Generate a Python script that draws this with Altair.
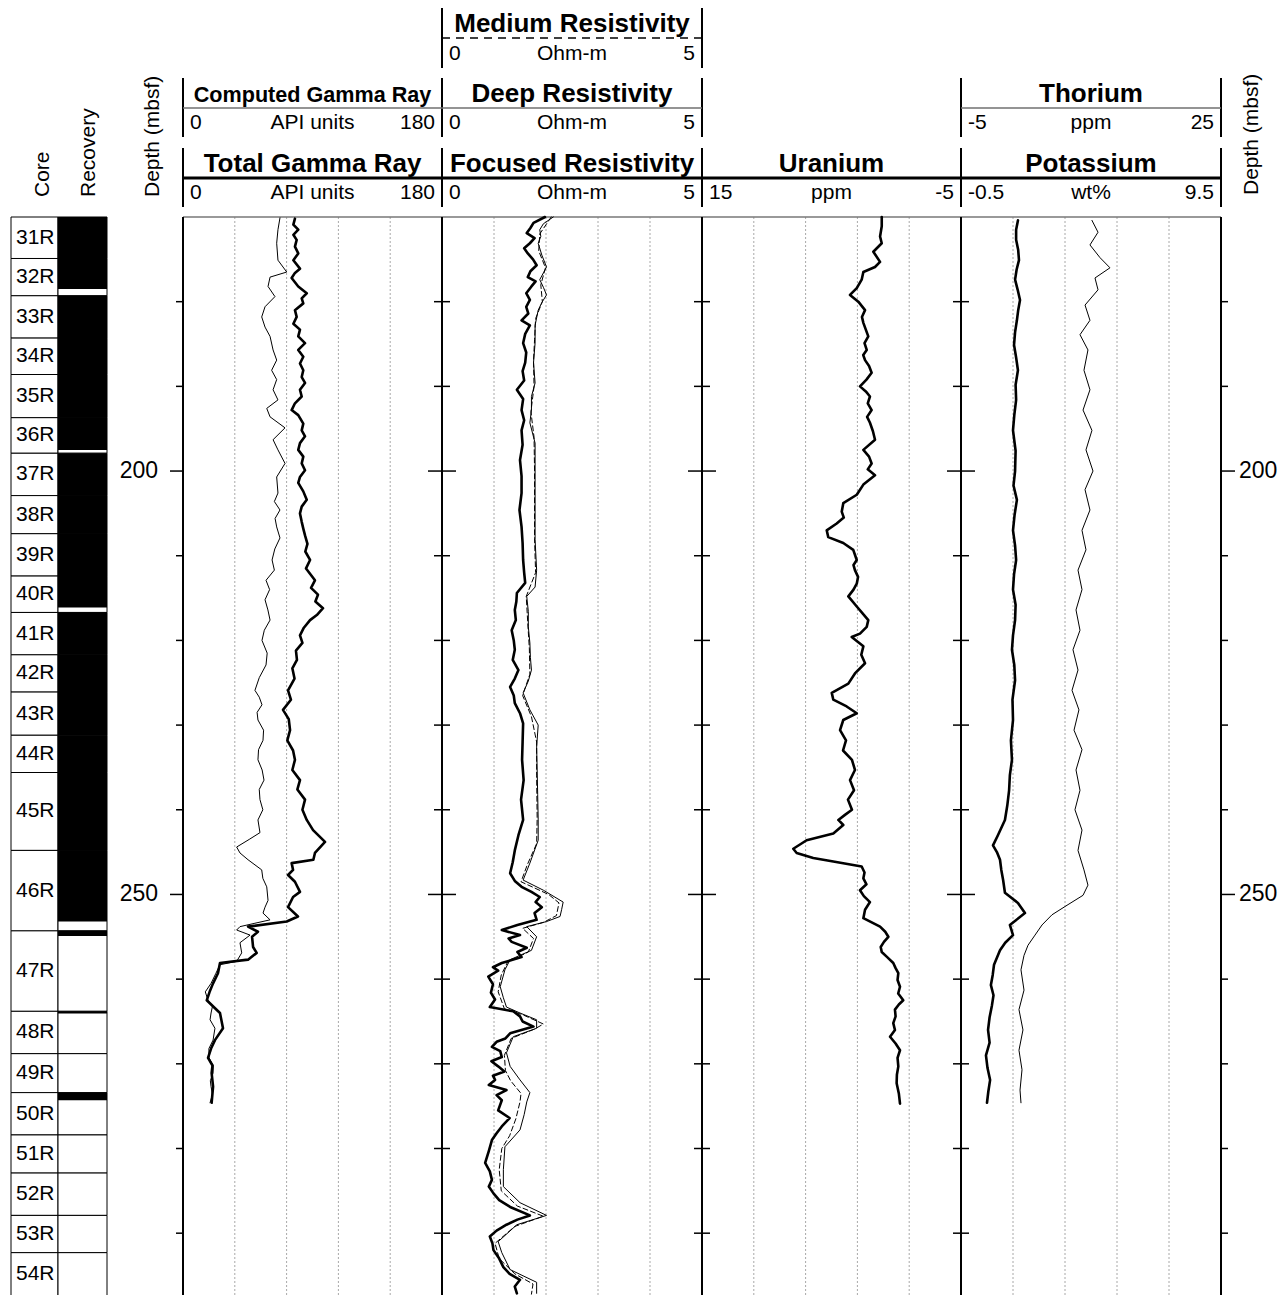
import altair as alt
import pandas as pd

# ------------------------------------------------------------------
# Depth frame (mbsf)
# ------------------------------------------------------------------
DEPTH_TOP = 170.0
DEPTH_BASE = 297.3
DEPTH_TICKS = [180, 190, 200, 210, 220, 230, 240, 250, 260, 270, 280, 290]
DEPTH_LABELS = [200, 250]

# ------------------------------------------------------------------
# Cores and recovered intervals
# ------------------------------------------------------------------
CORE_NAMES = ["31R", "32R", "33R", "34R", "35R", "36R", "37R", "38R", "39R", "40R",
              "41R", "42R", "43R", "44R", "45R", "46R", "47R", "48R", "49R", "50R",
              "51R", "52R", "53R", "54R"]
CORE_TOPS = [170.0, 174.9, 179.3, 184.3, 188.6, 193.7, 197.9, 202.9, 207.4, 212.4,
             216.7, 221.7, 226.1, 231.2, 235.6, 244.8, 254.3, 263.8, 268.8, 273.4,
             278.4, 282.9, 287.9, 292.3]
LAST_CORE_BASE = 297.6
RECOVERED = [(170.0, 174.9), (174.9, 178.5), (179.3, 184.3), (184.3, 188.6),
             (188.6, 193.7), (193.7, 197.5), (197.9, 202.9), (202.9, 207.4),
             (207.4, 212.4), (212.4, 216.1), (216.7, 221.7), (221.7, 226.1),
             (226.1, 231.2), (231.2, 235.6), (235.6, 244.8), (244.8, 253.2),
             (254.3, 254.9), (263.8, 264.05), (273.4, 274.3)]

# ------------------------------------------------------------------
# Log curves: (depth mbsf, value)
# ------------------------------------------------------------------
TOTAL_GR = [
    (170.2, 77.8), (170.9, 76.7), (171.5, 80.1), (172.1, 76.7), (172.7, 79.0), (173.5, 77.8),
    (174.3, 80.1), (175.1, 76.7), (176.1, 81.3), (176.6, 77.8), (177.2, 75.5), (178.2, 80.1),
    (179.0, 86.0), (179.6, 82.5), (180.2, 83.6), (181.0, 77.8), (181.8, 79.0), (182.6, 76.7),
    (183.3, 81.3), (184.1, 80.1), (184.9, 84.8), (185.7, 80.1), (186.5, 83.6), (187.3, 81.3),
    (188.1, 83.6), (188.9, 82.5), (189.6, 84.8), (190.4, 81.3), (191.2, 82.5), (192.0, 77.8),
    (192.8, 75.5), (193.4, 80.1), (194.4, 83.6), (195.2, 82.5), (195.9, 84.8), (196.7, 81.3),
    (197.5, 80.1), (198.3, 83.6), (199.1, 82.5), (199.9, 84.8), (200.7, 81.3), (201.4, 80.1),
    (202.4, 83.6), (203.4, 86.0), (204.2, 82.5), (205.0, 81.3), (206.0, 82.5), (206.8, 83.6),
    (207.6, 84.8), (208.6, 86.5), (209.5, 85.0), (210.5, 88.3), (211.5, 85.5), (212.9, 91.7),
    (213.8, 89.0), (214.6, 93.8), (215.4, 92.0), (216.2, 97.3), (217.0, 93.0), (217.6, 88.3),
    (218.5, 84.0), (219.4, 81.3), (220.3, 83.0), (221.2, 78.5), (222.3, 79.2), (223.3, 76.0),
    (224.5, 77.5), (225.9, 73.0), (227.0, 75.0), (228.2, 69.5), (229.3, 73.5), (230.6, 74.4),
    (231.8, 72.5), (233.0, 76.5), (234.1, 77.8), (235.3, 76.0), (236.5, 81.3), (237.6, 79.5),
    (238.8, 84.8), (240.0, 83.0), (241.2, 86.0), (242.4, 90.4), (243.8, 98.7), (245.1, 91.7),
    (245.9, 90.6), (246.3, 75.5), (247.1, 76.5), (247.7, 73.0), (248.5, 77.8), (249.7, 81.3),
    (250.3, 76.5), (251.5, 73.0), (252.6, 79.9), (253.2, 72.1), (253.8, 45.2), (254.4, 52.1),
    (255.0, 48.0), (256.2, 48.7), (256.9, 51.2), (257.7, 45.2), (258.1, 25.7), (259.3, 24.3),
    (260.5, 20.9), (261.5, 18.5), (262.5, 16.5), (264.0, 25.7), (265.8, 27.8), (267.2, 22.2),
    (268.2, 19.5), (269.3, 17.4), (270.2, 20.5), (271.1, 19.9), (272.7, 20.9), (274.6, 19.9),
]
COMPUTED_GR = [
    (170.1, 67.4), (171.5, 66.0), (173.1, 65.1), (175.1, 66.0), (176.5, 72.1), (177.1, 60.5),
    (178.2, 59.1), (179.4, 63.9), (180.6, 57.0), (181.8, 54.7), (183.0, 57.0), (184.1, 60.5),
    (185.7, 62.6), (186.9, 65.1), (188.1, 61.6), (189.2, 65.1), (190.4, 62.6), (191.6, 66.0),
    (192.6, 58.2), (193.6, 60.5), (194.9, 70.9), (196.3, 62.6), (197.5, 66.0), (199.1, 70.9),
    (200.7, 65.1), (202.6, 66.0), (203.6, 63.5), (204.6, 67.4), (205.6, 64.0), (206.6, 65.1),
    (207.9, 67.4), (209.2, 63.8), (210.5, 61.9), (211.7, 63.5), (212.9, 57.7), (214.0, 60.2),
    (215.2, 57.0), (216.4, 59.0), (217.6, 60.5), (218.8, 56.5), (220.0, 54.9), (221.5, 58.5),
    (222.9, 57.7), (224.4, 53.0), (225.9, 50.0), (226.7, 53.0), (227.6, 54.9), (228.5, 51.5),
    (229.4, 52.1), (230.6, 56.0), (231.8, 55.6), (232.9, 52.5), (234.1, 52.1), (235.3, 55.0),
    (236.5, 56.3), (237.6, 53.0), (238.8, 53.5), (240.0, 55.5), (241.2, 52.1), (242.7, 53.5),
    (243.5, 46.0), (244.4, 37.3), (245.1, 39.6), (245.9, 45.2), (247.1, 54.7), (248.1, 55.5),
    (249.1, 58.2), (250.7, 59.1), (251.5, 57.0), (252.2, 55.6), (253.0, 60.5), (253.4, 50.0),
    (253.8, 39.6), (254.2, 37.3), (254.8, 46.6), (255.7, 39.6), (256.9, 40.8), (257.9, 37.3),
    (258.3, 25.7), (259.3, 22.9), (260.5, 19.5), (261.5, 15.5), (262.5, 17.4), (263.2, 20.5),
    (264.0, 19.5), (264.8, 18.8), (265.8, 22.2), (267.2, 20.9), (268.2, 18.0), (269.3, 18.1),
    (270.2, 21.0), (271.1, 20.9), (272.0, 19.0), (272.7, 19.5), (273.6, 20.5), (274.6, 18.8),
]
FOCUSED_RES = [
    (170.0, 1.98), (170.7, 1.76), (171.3, 1.70), (171.9, 1.63), (172.5, 1.78), (173.1, 1.69),
    (173.7, 1.58), (174.3, 1.65), (175.0, 1.75), (175.7, 1.82), (176.4, 1.70), (177.1, 1.65),
    (177.6, 1.80), (178.2, 1.72), (179.0, 1.62), (179.8, 1.69), (180.6, 1.62), (181.4, 1.66),
    (182.2, 1.53), (182.8, 1.69), (183.8, 1.60), (184.9, 1.56), (186.0, 1.62), (187.2, 1.60),
    (188.2, 1.55), (189.3, 1.58), (190.4, 1.44), (191.5, 1.56), (192.8, 1.53), (194.0, 1.58),
    (195.2, 1.53), (196.9, 1.55), (198.7, 1.50), (200.6, 1.53), (202.6, 1.53), (204.6, 1.49),
    (206.6, 1.53), (208.5, 1.55), (210.5, 1.56), (212.0, 1.58), (213.2, 1.60), (214.4, 1.44),
    (215.4, 1.43), (216.4, 1.40), (217.6, 1.42), (218.8, 1.34), (220.0, 1.38), (221.1, 1.40),
    (222.3, 1.36), (223.5, 1.47), (224.5, 1.40), (225.5, 1.31), (226.5, 1.38), (227.4, 1.40),
    (228.6, 1.50), (229.8, 1.56), (232.0, 1.55), (234.1, 1.54), (236.5, 1.57), (238.8, 1.52),
    (241.2, 1.56), (243.0, 1.47), (244.8, 1.40), (246.2, 1.36), (247.5, 1.31), (248.4, 1.40),
    (249.1, 1.53), (249.7, 1.72), (250.3, 1.88), (250.9, 1.80), (251.5, 1.92), (252.2, 1.78),
    (253.0, 1.82), (253.6, 1.45), (254.2, 1.15), (254.8, 1.50), (255.2, 1.28), (255.6, 1.34),
    (256.3, 1.63), (256.8, 1.45), (257.4, 1.53), (258.1, 1.15), (258.6, 0.98), (259.0, 1.08),
    (259.7, 0.89), (260.6, 0.98), (261.6, 0.94), (262.4, 1.02), (263.3, 0.92), (263.8, 1.37),
    (264.4, 1.50), (265.0, 1.55), (265.6, 1.76), (266.4, 1.31), (267.0, 1.22), (267.4, 1.05),
    (268.0, 0.96), (268.5, 1.12), (269.2, 1.15), (269.7, 0.95), (270.3, 1.08), (270.9, 1.20),
    (271.4, 0.98), (271.9, 1.02), (272.5, 0.90), (273.1, 1.24), (273.7, 1.05), (274.3, 1.15),
    (275.5, 1.08), (276.4, 1.30), (277.4, 1.15), (278.2, 1.05), (279.0, 0.96), (280.3, 0.90),
    (281.7, 0.83), (282.7, 0.92), (283.7, 0.96), (284.5, 0.90), (285.3, 0.99), (286.1, 1.10),
    (286.9, 1.31), (287.9, 1.69), (288.4, 1.45), (289.0, 1.24), (289.7, 1.05), (290.4, 0.92),
    (291.2, 0.97), (292.0, 0.99), (293.0, 1.10), (294.0, 1.18), (294.8, 1.30), (295.5, 1.50),
    (296.3, 1.40), (297.1, 1.44),
]
DEEP_RES = [
    (170.0, 2.14), (170.8, 1.95), (171.5, 1.88), (172.3, 1.90), (173.1, 1.85), (174.5, 1.92),
    (175.9, 2.01), (176.6, 1.95), (177.4, 1.88), (178.3, 1.95), (179.2, 2.01), (180.1, 1.92),
    (181.0, 1.85), (182.8, 1.79), (184.9, 1.79), (187.2, 1.76), (189.6, 1.79), (191.2, 1.72),
    (192.8, 1.72), (194.3, 1.69), (196.7, 1.79), (200.7, 1.79), (204.6, 1.79), (208.1, 1.79),
    (211.7, 1.82), (213.7, 1.79), (214.8, 1.63), (216.6, 1.66), (218.4, 1.66), (220.3, 1.69),
    (222.0, 1.70), (223.5, 1.72), (224.8, 1.66), (226.2, 1.56), (228.2, 1.69), (230.0, 1.85),
    (232.6, 1.82), (235.3, 1.83), (238.2, 1.84), (241.2, 1.85), (243.6, 1.85), (246.3, 1.69),
    (248.3, 1.56), (249.5, 1.95), (250.9, 2.33), (251.8, 2.30), (252.6, 2.27), (253.2, 2.01),
    (253.8, 1.63), (255.0, 1.82), (256.6, 1.72), (257.7, 1.31), (258.9, 1.21), (260.9, 1.12),
    (262.2, 1.18), (263.3, 1.24), (264.0, 1.50), (264.8, 1.82), (265.8, 1.82), (266.8, 1.37),
    (268.7, 1.24), (270.3, 1.31), (271.9, 1.50), (273.4, 1.69), (274.5, 1.63), (276.0, 1.58),
    (277.8, 1.50), (279.8, 1.21), (282.5, 1.18), (284.5, 1.18), (286.4, 1.50), (287.9, 2.01),
    (289.0, 1.44), (291.0, 1.08), (292.3, 1.15), (294.3, 1.31), (295.8, 1.82), (297.1, 1.82),
]
MEDIUM_RES = [
    (170.0, 2.10), (172.0, 1.88), (174.0, 1.86), (176.0, 1.99), (178.0, 1.90), (180.0, 1.93),
    (182.0, 1.80), (184.5, 1.78), (187.0, 1.76), (190.0, 1.77), (193.0, 1.71), (196.0, 1.77),
    (200.0, 1.78), (204.0, 1.78), (208.0, 1.78), (212.0, 1.80), (214.8, 1.62), (218.0, 1.65),
    (221.0, 1.68), (224.0, 1.69), (226.5, 1.55), (229.0, 1.72), (232.0, 1.82), (236.0, 1.82),
    (241.0, 1.83), (244.0, 1.82), (246.5, 1.64), (248.5, 1.52), (250.0, 2.05), (251.0, 2.25),
    (252.5, 2.20), (253.3, 1.95), (254.0, 1.55), (255.2, 1.76), (256.8, 1.66), (258.0, 1.26),
    (259.5, 1.14), (261.5, 1.08), (263.5, 1.20), (264.2, 1.55), (265.3, 1.95), (265.9, 1.78),
    (267.0, 1.33), (269.0, 1.20), (270.8, 1.22), (272.0, 1.32), (273.5, 1.52), (274.5, 1.50),
    (276.5, 1.42), (278.5, 1.30), (280.0, 1.15), (282.5, 1.10), (285.0, 1.14), (286.8, 1.45),
    (288.0, 1.95), (289.2, 1.40), (291.2, 1.02), (293.0, 1.10), (294.8, 1.40), (296.0, 1.75),
    (297.2, 1.72),
]
URANIUM = [
    (170.0, 1.12), (171.1, 1.12), (172.3, 1.25), (173.1, 1.12), (174.1, 1.77), (175.3, 1.25),
    (175.9, 1.64), (176.5, 2.54), (177.4, 2.67), (178.4, 3.05), (179.2, 3.57), (180.0, 2.93),
    (181.0, 2.41), (181.8, 2.65), (182.5, 2.54), (183.3, 2.35), (184.1, 2.16), (184.9, 2.45),
    (185.7, 2.28), (186.3, 2.55), (186.9, 2.41), (187.6, 2.10), (188.4, 1.90), (189.2, 2.30),
    (190.0, 2.80), (190.6, 2.35), (191.2, 2.03), (192.0, 2.20), (192.8, 1.90), (193.6, 2.25),
    (194.3, 2.03), (195.3, 1.80), (196.3, 1.64), (197.5, 2.54), (198.3, 2.10), (199.1, 1.90),
    (199.8, 2.20), (200.5, 1.64), (201.6, 2.54), (202.8, 3.05), (203.8, 4.09), (204.8, 4.21),
    (205.5, 4.05), (206.2, 4.60), (207.0, 5.37), (207.8, 5.25), (208.5, 4.09), (209.3, 3.32),
    (210.5, 3.05), (211.1, 3.30), (211.7, 3.19), (212.5, 2.95), (213.3, 3.05), (214.0, 3.30),
    (214.8, 3.70), (216.0, 3.05), (216.8, 2.60), (217.6, 2.16), (218.4, 2.28), (219.2, 2.80),
    (219.6, 3.44), (220.7, 2.54), (221.7, 2.70), (222.7, 2.41), (223.9, 3.19), (225.1, 3.70),
    (226.2, 4.98), (227.0, 4.86), (227.8, 3.83), (228.6, 3.05), (229.4, 4.09), (230.6, 4.34),
    (231.8, 3.88), (233.0, 4.11), (234.1, 3.42), (235.3, 3.19), (236.5, 3.57), (237.7, 3.26),
    (238.8, 3.73), (240.0, 3.42), (240.6, 3.96), (241.2, 4.47), (241.8, 4.09), (242.8, 4.86),
    (243.6, 6.92), (244.6, 7.95), (245.1, 7.69), (245.7, 6.41), (246.1, 4.86), (246.7, 2.67),
    (247.4, 2.45), (248.1, 2.54), (248.8, 2.30), (249.5, 2.80), (250.2, 2.50), (250.9, 2.03),
    (251.8, 2.41), (252.8, 2.54), (253.8, 1.25), (254.4, 0.85), (255.0, 0.61), (255.6, 0.95),
    (256.2, 1.20), (256.8, 1.12), (257.4, 0.70), (258.1, 0.23), (258.7, 0.05), (259.3, -0.16),
    (260.1, -0.10), (260.9, -0.29), (261.7, -0.15), (262.5, -0.54), (263.0, -0.20), (263.6, 0.10),
    (264.4, 0.05), (265.2, 0.23), (266.0, 0.10), (266.8, 0.48), (267.6, 0.05), (268.4, -0.29),
    (269.3, -0.10), (270.3, -0.16), (271.3, -0.05), (272.3, -0.03), (273.5, -0.20), (274.7, -0.29),
]
POTASSIUM = [
    (170.4, 1.69), (171.5, 1.62), (172.7, 1.62), (173.9, 1.70), (175.1, 1.73), (176.2, 1.64),
    (177.4, 1.58), (178.6, 1.68), (179.8, 1.77), (181.0, 1.70), (182.2, 1.65), (183.6, 1.58),
    (185.1, 1.54), (186.6, 1.62), (188.1, 1.69), (189.8, 1.60), (191.6, 1.62), (193.4, 1.55),
    (195.2, 1.50), (197.6, 1.60), (200.0, 1.58), (201.7, 1.52), (203.4, 1.65), (205.2, 1.56),
    (207.0, 1.50), (208.8, 1.58), (210.5, 1.62), (212.2, 1.54), (214.0, 1.50), (215.8, 1.60),
    (217.6, 1.58), (219.4, 1.50), (221.1, 1.46), (222.9, 1.55), (224.7, 1.58), (227.0, 1.48),
    (229.4, 1.50), (231.8, 1.42), (234.1, 1.46), (235.9, 1.38), (237.7, 1.35), (239.5, 1.28),
    (241.2, 1.19), (243.0, 0.92), (244.2, 0.73), (245.0, 0.88), (245.9, 1.00), (247.1, 1.05),
    (248.3, 1.12), (249.8, 1.19), (251.0, 1.69), (252.2, 1.96), (253.6, 1.38), (254.8, 1.50),
    (255.7, 1.20), (256.6, 1.00), (258.3, 0.77), (259.5, 0.72), (260.7, 0.65), (261.9, 0.75),
    (263.1, 0.69), (264.5, 0.60), (266.0, 0.54), (267.5, 0.60), (269.0, 0.46), (270.5, 0.52),
    (271.9, 0.62), (273.3, 0.55), (274.6, 0.50),
]
THORIUM = [
    (170.4, 10.11), (171.8, 10.81), (173.3, 9.88), (174.8, 11.04), (176.0, 12.19), (177.2, 10.46),
    (178.6, 10.81), (180.4, 9.31), (182.2, 9.88), (183.9, 8.73), (185.7, 9.65), (188.1, 9.19),
    (190.4, 9.88), (192.8, 9.08), (195.2, 10.11), (197.5, 9.42), (200.0, 10.23), (202.2, 9.31),
    (204.6, 9.88), (207.0, 8.96), (209.3, 9.42), (211.7, 8.50), (214.0, 8.96), (216.4, 8.27),
    (218.8, 8.73), (221.1, 7.92), (223.5, 8.50), (225.9, 7.81), (228.2, 8.61), (230.6, 8.04),
    (232.9, 8.96), (235.3, 8.27), (237.7, 8.73), (240.0, 8.15), (242.4, 8.96), (244.8, 8.50),
    (247.1, 9.19), (248.9, 9.65), (250.1, 9.08), (251.2, 7.35), (252.4, 5.50), (253.6, 4.35),
    (254.8, 3.54), (256.0, 2.73), (257.2, 2.27), (258.9, 1.92), (261.3, 2.27), (263.6, 1.69),
    (266.0, 2.15), (268.4, 1.69), (270.7, 2.04), (273.1, 1.81), (274.6, 1.92),
]

# ------------------------------------------------------------------
# Track headers: (row, track, title, left value, unit, right value)
# ------------------------------------------------------------------
HEADERS = [
    ("C", 0, "Total Gamma Ray", "0", "API units", "180"),
    ("C", 1, "Focused Resistivity", "0", "Ohm-m", "5"),
    ("C", 2, "Uranium", "15", "ppm", "-5"),
    ("C", 3, "Potassium", "-0.5", "wt%", "9.5"),
    ("B", 0, "Computed Gamma Ray", "0", "API units", "180"),
    ("B", 1, "Deep Resistivity", "0", "Ohm-m", "5"),
    ("B", 3, "Thorium", "-5", "ppm", "25"),
    ("A", 1, "Medium Resistivity", "0", "Ohm-m", "5"),
]
CONDENSED_TITLES = ["Computed Gamma Ray"]

# ------------------------------------------------------------------
# Page layout (pixels)
# ------------------------------------------------------------------
W, H, TOP = 1288, 1078, 217
EDGES = [183, 442, 702, 961, 1221]          # track borders
CORE_X = (11, 58)
REC_X = (58, 107)
ROWS = {  # header row geometry, relative to the top of the log area
    "A": dict(top=-209, bottom=-149, title=-185, line=-179, unit=-157),
    "B": dict(top=-139, bottom=-80, title=-115, line=-109, unit=-88),
    "C": dict(top=-69, bottom=-10, title=-45, line=-39, unit=-18),
}
FONT = "Liberation Sans, Arial, Helvetica, sans-serif"

yscale = alt.Scale(domain=[DEPTH_TOP, DEPTH_BASE], reverse=True, nice=False, zero=False)


def ydepth(field):
    return alt.Y(f"{field}:Q", scale=yscale, axis=None)


def xpix(field):
    return alt.X(f"{field}:Q", scale=None, axis=None)


def ypix(field):
    return alt.Y(f"{field}:Q", scale=None, axis=None)


def track_range(i):
    return [EDGES[i], EDGES[i + 1]]


def log_curve(pairs, domain, track, width, dash=None):
    df = pd.DataFrame(pairs, columns=["depth", "value"])
    kw = dict(color="black", strokeWidth=width, strokeJoin="round", strokeCap="round")
    if dash:
        kw["strokeDash"] = dash
    return alt.Chart(df).mark_line(**kw).encode(
        x=alt.X("value:Q", axis=None,
                scale=alt.Scale(domain=domain, range=track_range(track), nice=False, zero=False)),
        y=ydepth("depth"),
        order=alt.Order("depth:Q"),
    )


layers = []

# --- dotted grid inside the tracks
grid = pd.DataFrame([
    {"x": EDGES[t] + f * (EDGES[t + 1] - EDGES[t]), "top": DEPTH_TOP, "bottom": DEPTH_BASE}
    for t in range(4) for f in (0.2, 0.4, 0.6, 0.8)
])
layers.append(alt.Chart(grid).mark_rule(color="#a8a8a8", strokeWidth=1, strokeDash=[2, 2]).encode(
    x=xpix("x"), y=ydepth("top"), y2=alt.Y2("bottom")))

# --- top line of the log area
topline = pd.DataFrame([{"x1": EDGES[0], "x2": EDGES[-1], "depth": DEPTH_TOP}])
layers.append(alt.Chart(topline).mark_rule(color="#777777", strokeWidth=1.5).encode(
    x=xpix("x1"), x2=alt.X2("x2"), y=ydepth("depth")))

# --- core and recovery columns
cores = pd.DataFrame({"name": CORE_NAMES, "top": CORE_TOPS,
                      "bottom": CORE_TOPS[1:] + [LAST_CORE_BASE]})
cores["mid"] = (cores["top"] + cores["bottom"]) / 2
cores["mid"] = cores["mid"].clip(upper=(CORE_TOPS[-1] + DEPTH_BASE) / 2)
for x0, x1 in (CORE_X, REC_X):
    layers.append(alt.Chart(cores).mark_rect(fill="white", stroke="black", strokeWidth=1).encode(
        x=alt.value(x0), x2=alt.value(x1), y=ydepth("top"), y2=alt.Y2("bottom")))
rec = pd.DataFrame(RECOVERED, columns=["top", "bottom"])
layers.append(alt.Chart(rec).mark_rect(fill="black").encode(
    x=alt.value(REC_X[0]), x2=alt.value(REC_X[1]), y=ydepth("top"), y2=alt.Y2("bottom")))
layers.append(alt.Chart(cores).mark_text(align="left", baseline="middle", fontSize=21, font=FONT).encode(
    x=alt.value(CORE_X[0] + 5), y=ydepth("mid"), text="name:N"))

# --- log curves
layers += [
    log_curve(COMPUTED_GR, [0, 180], 0, 1),
    log_curve(TOTAL_GR, [0, 180], 0, 2.6),
    log_curve(MEDIUM_RES, [0, 5], 1, 1, dash=[5, 3]),
    log_curve(DEEP_RES, [0, 5], 1, 1),
    log_curve(FOCUSED_RES, [0, 5], 1, 2.6),
    log_curve(URANIUM, [15, -5], 2, 2.6),
    log_curve(THORIUM, [-5, 25], 3, 1),
    log_curve(POTASSIUM, [-0.5, 9.5], 3, 2.6),
]

# --- track borders
borders = pd.DataFrame([{"x": e, "top": DEPTH_TOP, "bottom": DEPTH_BASE} for e in EDGES])
layers.append(alt.Chart(borders).mark_rule(color="black", strokeWidth=2).encode(
    x=xpix("x"), y=ydepth("top"), y2=alt.Y2("bottom")))

# --- depth ticks on every border
ticks = []
for d in DEPTH_TICKS:
    major = d in DEPTH_LABELS
    for i, e in enumerate(EDGES):
        if i == 0:
            x1, x2 = e - (13 if major else 7), e
        elif i == len(EDGES) - 1:
            x1, x2 = e, e + (14 if major else 7)
        else:
            half = 14 if major else 8
            x1, x2 = e - half, e + half
        ticks.append({"depth": d, "x1": x1, "x2": x2})
layers.append(alt.Chart(pd.DataFrame(ticks)).mark_rule(color="black", strokeWidth=1.5).encode(
    x=xpix("x1"), x2=alt.X2("x2"), y=ydepth("depth")))

dl = pd.DataFrame({"depth": DEPTH_LABELS, "label": [str(v) for v in DEPTH_LABELS]})
dl["xl"] = EDGES[0] - 25
dl["xr"] = EDGES[-1] + 18
layers.append(alt.Chart(dl).mark_text(align="right", baseline="middle", fontSize=23, font=FONT).encode(
    x=xpix("xl"), y=ydepth("depth"), text="label:N"))
layers.append(alt.Chart(dl).mark_text(align="left", baseline="middle", fontSize=23, font=FONT).encode(
    x=xpix("xr"), y=ydepth("depth"), text="label:N"))

# --- rotated column titles
coltitles = pd.DataFrame([
    {"t": "Core", "x": 43, "y": -20},
    {"t": "Recovery", "x": 89, "y": -20},
    {"t": "Depth (mbsf)", "x": 153, "y": -20},
    {"t": "Depth (mbsf)", "x": 1252, "y": -22},
])
layers.append(alt.Chart(coltitles).mark_text(angle=270, align="left", baseline="middle",
                                             fontSize=21, font=FONT).encode(
    x=xpix("x"), y=ypix("y"), text="t:N"))

# --- header boxes
bars, lines, titles, units = [], [], [], []
for row, t, title, lo, unit, hi in HEADERS:
    g = ROWS[row]
    left, right = EDGES[t], EDGES[t + 1]
    for e in (left, right):
        bars.append({"x": e, "y1": g["top"], "y2": g["bottom"]})
    lines.append({"row": row, "x1": left, "x2": right, "y": g["line"]})
    titles.append({"t": title, "x": (left + right) / 2, "y": g["title"],
                   "condensed": title in CONDENSED_TITLES})
    units.append({"t": lo, "x": left + 7, "y": g["unit"], "pos": "left"})
    units.append({"t": unit, "x": (left + right) / 2, "y": g["unit"], "pos": "center"})
    units.append({"t": hi, "x": right - 7, "y": g["unit"], "pos": "right"})

bars = pd.DataFrame(bars).drop_duplicates()
layers.append(alt.Chart(bars).mark_rule(color="black", strokeWidth=2).encode(
    x=xpix("x"), y=ypix("y1"), y2=alt.Y2("y2")))

lines = pd.DataFrame(lines)
line_style = {
    "C": dict(color="black", strokeWidth=3),
    "B": dict(color="#707070", strokeWidth=1.5),
    "A": dict(color="black", strokeWidth=1.5, strokeDash=[8, 6]),
}
for row, style in line_style.items():
    sub = lines[lines["row"] == row]
    layers.append(alt.Chart(sub).mark_rule(**style).encode(
        x=xpix("x1"), x2=alt.X2("x2"), y=ypix("y")))

titles = pd.DataFrame(titles)
layers.append(alt.Chart(titles[~titles["condensed"]]).mark_text(
    align="center", baseline="alphabetic", fontSize=26, fontWeight="bold",
    font=FONT).encode(x=xpix("x"), y=ypix("y"), text="t:N"))
layers.append(alt.Chart(titles[titles["condensed"]]).mark_text(
    align="center", baseline="alphabetic", fontSize=21.6, fontWeight="bold",
    font=FONT).encode(x=xpix("x"), y=ypix("y"), text="t:N"))

units = pd.DataFrame(units)
for pos in ("left", "center", "right"):
    layers.append(alt.Chart(units[units["pos"] == pos]).mark_text(
        align=pos, baseline="alphabetic", fontSize=21, font=FONT).encode(
        x=xpix("x"), y=ypix("y"), text="t:N"))

chart = alt.layer(*layers).resolve_scale(x="independent").properties(
    width=W, height=H,
    padding={"top": TOP, "left": 0, "right": 0, "bottom": 0},
    autosize=alt.AutoSizeParams(type="none"),
    background="white",
).configure(font=FONT).configure_view(stroke=None, strokeWidth=0)

chart.save("out.html", embed_options={"renderer": "svg", "actions": False})
